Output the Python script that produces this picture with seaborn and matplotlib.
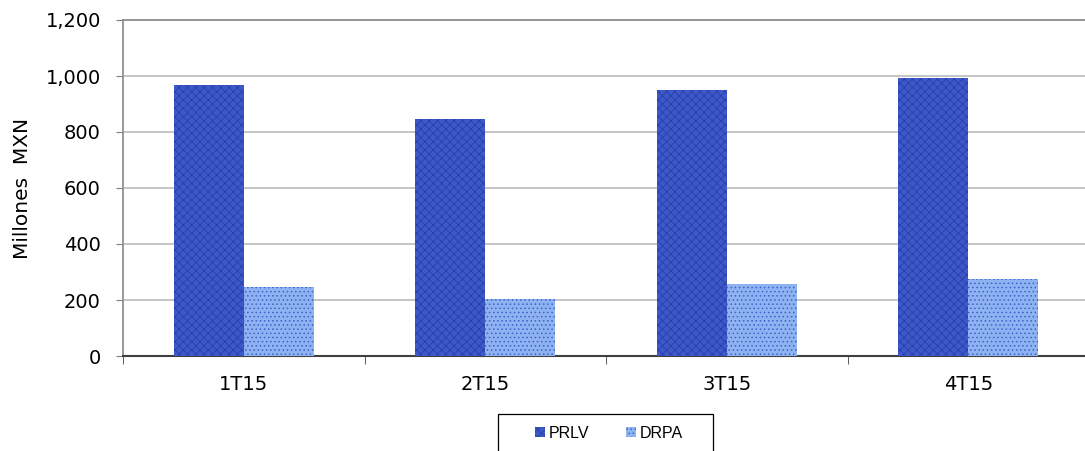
import matplotlib
matplotlib.use("Agg")
import matplotlib.pyplot as plt
import seaborn as sns
import pandas as pd
from matplotlib.ticker import FuncFormatter, FixedLocator
from matplotlib.patches import Rectangle

categories = ["1T15", "2T15", "3T15", "4T15"]
prlv = [968, 846, 950, 993]
drpa = [246, 204, 257, 275]
series_names = ["PRLV", "DRPA"]

df = pd.DataFrame({
    "cat": categories * 2,
    "serie": [series_names[0]] * 4 + [series_names[1]] * 4,
    "val": prlv + drpa,
})

sns.set_style("white")
plt.rcParams['font.family'] = ['DejaVu Sans']
plt.rcParams['hatch.linewidth'] = 0.6
plt.rcParams['text.color'] = 'black'
plt.rcParams['xtick.color'] = 'black'
plt.rcParams['ytick.color'] = 'black'
plt.rcParams['axes.labelcolor'] = 'black'

W, H = 1085, 451
fig = plt.figure(figsize=(W / 100, H / 100), dpi=100)
ax = fig.add_axes([123 / W, 1 - 356 / H, (1089 - 123) / W, (356 - 20) / H])

colors = {"PRLV": "#3d58c9", "DRPA": "#8fb2f2"}
sns.barplot(data=df, x="cat", y="val", hue="serie", palette=colors,
            width=0.58, saturation=1, ax=ax, legend=True, zorder=3)

hatches = {"PRLV": "xxxx", "DRPA": "...."}
hcols = {"PRLV": "#2a3fa8", "DRPA": "#3d62c8"}
for cont, name in zip(ax.containers, series_names):
    for p in cont:
        p.set_hatch(hatches[name])
        p.set_edgecolor(hcols[name])
        p.set_linewidth(0)

ax.set_ylim(0, 1200)
ax.set_xlim(-0.5, 3.5)
ax.set_yticks(range(0, 1201, 200))
ax.yaxis.set_major_formatter(FuncFormatter(lambda v, p: f"{int(v):,}"))
ax.grid(axis="y", color="#c0c0c0", linewidth=1.3, zorder=0)
ax.set_axisbelow(True)

ax.set_xlabel("")
ax.set_ylabel("Millones  MXN", fontsize=14.5)
ax.yaxis.set_label_coords(-(123 - 32) / (1089 - 123), 0.5)
ax.tick_params(axis="y", labelsize=14, length=5, color="#808080", direction="out", left=True, pad=11)
ax.tick_params(axis="x", labelsize=14, length=0, pad=14)
ax.xaxis.set_minor_locator(FixedLocator([-0.5, 0.5, 1.5, 2.5, 3.5]))
ax.tick_params(axis="x", which="minor", length=6, color="#404040", bottom=True, direction="out")

ax.spines["right"].set_visible(False)
ax.spines["top"].set_color("#909090")
ax.spines["top"].set_linewidth(1.3)
ax.spines["left"].set_color("#909090")
ax.spines["left"].set_linewidth(1.3)
ax.spines["bottom"].set_color("#404040")
ax.spines["bottom"].set_linewidth(1.5)

handles = ax.get_legend().legend_handles
ax.get_legend().remove()
leg = fig.legend(handles=handles, labels=series_names, loc="upper center",
                 bbox_to_anchor=(609 / W, 1 - 426 / H), ncol=2, frameon=False,
                 prop={"family": "Liberation Sans", "size": 11.5},
                 handlelength=0.6, handleheight=0.6, handletextpad=0.25,
                 columnspacing=2.3, borderpad=0, borderaxespad=0)
for h, name in zip(leg.legend_handles, series_names):
    h.set_hatch(hatches[name])
    h.set_edgecolor(hcols[name])
    h.set_linewidth(0)

fig.patches.append(Rectangle((498 / W, -0.05), (713 - 498) / W, 0.05 + (451 - 414) / H,
                             transform=fig.transFigure, fill=False,
                             edgecolor="#000000", linewidth=0.9))

fig.savefig("out.png", dpi=100)
